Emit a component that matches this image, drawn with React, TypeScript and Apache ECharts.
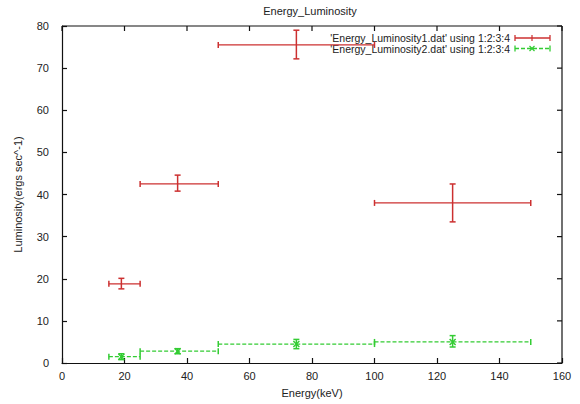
import React, { useEffect, useRef } from "react";
import * as echarts from "echarts";

const xTicks = [0, 20, 40, 60, 80, 100, 120, 140, 160];
const yTicks = [0, 10, 20, 30, 40, 50, 60, 70, 80];

// Series 1: Energy_Luminosity1.dat
const s1X = [19, 37, 75, 125];
const s1Y = [18.8, 42.5, 75.5, 38];
const s1XLow = [15, 25, 50, 100];
const s1XHigh = [25, 50, 100, 150];
const s1YLow = [17.6, 40.8, 72.2, 33.5];
const s1YHigh = [20.1, 44.6, 79, 42.5];

// Series 2: Energy_Luminosity2.dat
const s2X = [19, 37, 75, 125];
const s2Y = [1.5, 2.8, 4.5, 5];
const s2XLow = [15, 25, 50, 100];
const s2XHigh = [25, 50, 100, 150];
const s2YLow = [0.8, 2.2, 3.4, 3.8];
const s2YHigh = [2.2, 3.4, 5.6, 6.5];

const legend1 = "'Energy_Luminosity1.dat' using 1:2:3:4";
const legend2 = "'Energy_Luminosity2.dat' using 1:2:3:4";

const RED = "#cc3030";
const GREEN = "#33cc33";

function build(xs: number[], ys: number[], xl: number[], xh: number[], yl: number[], yh: number[]) {
  return xs.map((x, i) => [x, ys[i], xl[i], xh[i], yl[i], yh[i]]);
}

function makeRender(color: string, dash: number[] | null, marker: boolean) {
  return (params: any, api: any) => {
    const x = api.value(0), y = api.value(1);
    const xl = api.value(2), xh = api.value(3), yl = api.value(4), yh = api.value(5);
    const p = api.coord([x, y]);
    const pxl = api.coord([xl, y]);
    const pxh = api.coord([xh, y]);
    const pyl = api.coord([x, yl]);
    const pyh = api.coord([x, yh]);
    const c = 3;
    const st: any = { stroke: color, lineWidth: 1.3, fill: null };
    if (dash) st.lineDash = dash;
    const cap: any = { stroke: color, lineWidth: 1.5 };
    const L = (x1: number, y1: number, x2: number, y2: number, s: any) => ({
      type: "line",
      shape: { x1, y1, x2, y2 },
      style: s,
    });
    const children: any[] = [
      L(pxl[0], pxl[1], pxh[0], pxh[1], st),
      L(pxl[0], pxl[1] - c, pxl[0], pxl[1] + c, cap),
      L(pxh[0], pxh[1] - c, pxh[0], pxh[1] + c, cap),
      L(pyl[0], pyl[1], pyh[0], pyh[1], cap),
      L(pyl[0] - c, pyl[1], pyl[0] + c, pyl[1], cap),
      L(pyh[0] - c, pyh[1], pyh[0] + c, pyh[1], cap),
    ];
    if (marker) {
      const m = 3;
      children.push(L(p[0] - m, p[1] - m, p[0] + m, p[1] + m, cap));
      children.push(L(p[0] - m, p[1] + m, p[0] + m, p[1] - m, cap));
    }
    return { type: "group", children };
  };
}

// Frame (top/right borders + mirrored ticks) drawn from the axis scales
function renderFrame(params: any, api: any) {
  const cs = params.coordSys;
  const top = cs.y, right = cs.x + cs.width;
  const st = { stroke: "#111", lineWidth: 1.2 };
  const children: any[] = [
    { type: "line", shape: { x1: cs.x, y1: top, x2: right, y2: top }, style: st },
    { type: "line", shape: { x1: right, y1: top, x2: right, y2: cs.y + cs.height }, style: st },
  ];
  xTicks.forEach((t) => {
    const px = api.coord([t, 0])[0];
    children.push({ type: "line", shape: { x1: px, y1: top, x2: px, y2: top + 5 }, style: st });
  });
  yTicks.forEach((t) => {
    const py = api.coord([0, t])[1];
    children.push({ type: "line", shape: { x1: right, y1: py, x2: right - 5, y2: py }, style: st });
  });
  return { type: "group", children };
}

export default function App() {
  const ref = useRef<HTMLDivElement>(null);
  useEffect(() => {
    if (!ref.current) return;
    const chart = echarts.init(ref.current, null, { renderer: "svg" });
    const font = "Liberation Sans";
    const axisCommon = {
      min: 0,
      axisLine: { show: true, onZero: false, lineStyle: { color: "#111", width: 1.2 } },
      axisTick: { show: true, inside: true, length: 5, lineStyle: { color: "#111", width: 1.2 } },
      splitLine: { show: false },
    };
    const legendSample = (y: number, color: string, dash: number[] | null, marker: boolean) => {
      const st: any = { stroke: color, lineWidth: 1.3 };
      if (dash) st.lineDash = dash;
      const x1 = 515, x2 = 550, cx = 532;
      const items: any[] = [
        { type: "line", shape: { x1, y1: y, x2, y2: y }, style: st },
        { type: "line", shape: { x1, y1: y - 3, x2: x1, y2: y + 3 }, style: { stroke: color, lineWidth: 1.3 } },
        { type: "line", shape: { x1: x2, y1: y - 3, x2, y2: y + 3 }, style: { stroke: color, lineWidth: 1.3 } },
      ];
      if (marker) {
        items.push({ type: "line", shape: { x1: cx - 2.5, y1: y - 2.5, x2: cx + 2.5, y2: y + 2.5 }, style: { stroke: color, lineWidth: 1.2 } });
        items.push({ type: "line", shape: { x1: cx - 2.5, y1: y + 2.5, x2: cx + 2.5, y2: y - 2.5 }, style: { stroke: color, lineWidth: 1.2 } });
      } else {
        items.push({ type: "line", shape: { x1: cx, y1: y - 3, x2: cx, y2: y + 3 }, style: { stroke: color, lineWidth: 1.2 } });
      }
      return items;
    };
    chart.setOption({
      animation: false,
      backgroundColor: "#fff",
      textStyle: { fontFamily: font },
      title: {
        text: "Energy_Luminosity",
        left: 310,
        top: 5,
        padding: 0,
        textAlign: "center",
        textStyle: { fontSize: 11, fontWeight: "normal", color: "#222", fontFamily: font },
      },
      grid: { left: 62, right: 18, top: 26, bottom: 41 },
      xAxis: {
        ...axisCommon,
        type: "value",
        max: 160,
        interval: 20,
        position: "bottom",
        name: "Energy(keV)",
        nameLocation: "middle",
        nameGap: 24,
        nameTextStyle: { fontSize: 11, color: "#222", fontFamily: font },
        axisLabel: { fontSize: 11, color: "#222", margin: 7, fontFamily: font },
      },
      yAxis: {
        ...axisCommon,
        type: "value",
        max: 80,
        interval: 10,
        position: "left",
        name: "Luminosity(ergs sec^-1)",
        nameLocation: "middle",
        nameGap: 39,
        nameRotate: 90,
        nameTextStyle: { fontSize: 11, color: "#222", fontFamily: font },
        axisLabel: { fontSize: 11, color: "#222", margin: 13, fontFamily: font },
      },
      graphic: [
        {
          type: "text",
          x: 510,
          y: 37.5,
          style: { text: legend1, fontSize: 10.5, lineHeight: 10.5, fill: "#222", fontFamily: font, textAlign: "right", textVerticalAlign: "middle" },
        },
        {
          type: "text",
          x: 510,
          y: 48.5,
          style: { text: legend2, fontSize: 10.5, lineHeight: 10.5, fill: "#222", fontFamily: font, textAlign: "right", textVerticalAlign: "middle" },
        },
        ...legendSample(38, RED, null, false),
        ...legendSample(48.5, GREEN, [4, 2], true),
      ],
      series: [
        {
          type: "custom",
          name: "frame",
          renderItem: renderFrame,
          data: [[0, 0]],
          silent: true,
          clip: false,
        },
        {
          type: "custom",
          name: legend1,
          renderItem: makeRender(RED, null, false),
          encode: { x: 0, y: 1 },
          data: build(s1X, s1Y, s1XLow, s1XHigh, s1YLow, s1YHigh),
        },
        {
          type: "custom",
          name: legend2,
          renderItem: makeRender(GREEN, [4, 2], true),
          encode: { x: 0, y: 1 },
          data: build(s2X, s2Y, s2XLow, s2XHigh, s2YLow, s2YHigh),
        },
      ],
    });
    return () => chart.dispose();
  }, []);
  return <div ref={ref} style={{ width: 580, height: 404, position: "fixed", left: 0, top: 0 }} />;
}
